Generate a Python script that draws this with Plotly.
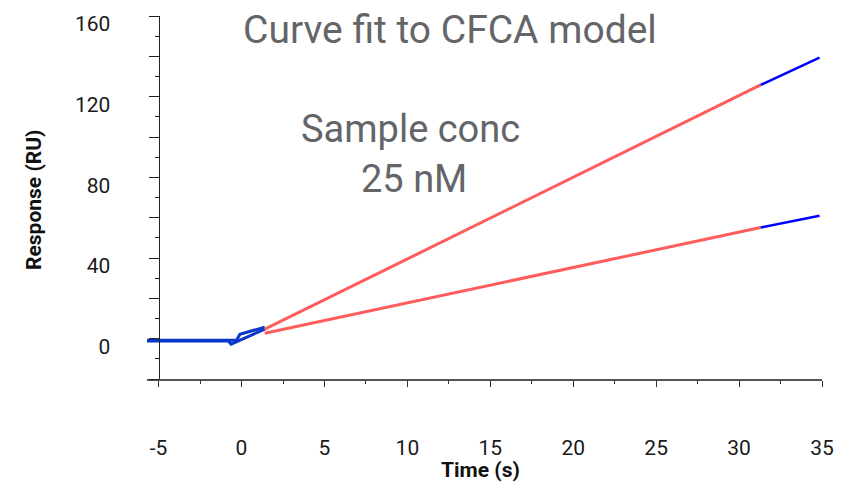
import plotly.graph_objects as go

# Sensorgram segments, time in s and response in RU
time_base_hi = [-5.7, -0.3, -0.1, 1.4]
resp_base_hi = [-0.8, -0.8, 2.2, 5.7]
time_base_lo = [-5.7, -0.8, -0.63, 1.4]
resp_base_lo = [-1.2, -1.2, -2.7, 4.7]

# CFCA model fit over the injection window
time_fit = [1.4, 31.3]
resp_fit_hi = [4.7, 125.8]
resp_fit_lo = [2.7, 55.1]

# Measured data after the fitted window
time_tail = [31.3, 34.85]
resp_tail_hi = [125.8, 139.3]
resp_tail_lo = [55.1, 60.9]

x_tick_vals = [-5, 0, 5, 10, 15, 20, 25, 30, 35]
x_tick_text = ["-5", "0", "5", "10", "15", "20", "25", "30", "35"]
y_tick_vals = [-20, 0, 20, 40, 60, 80, 100, 120, 140, 160]
y_tick_text = ["", "0", "", "40", "", "80", "", "120", "", "160"]

title_text = "Curve fit to CFCA model"
note_lines = ["Sample conc", "25 nM"]

BLUE_DARK = "#0b36c9"
BLUE = "#0000ff"
RED = "#ff5c5c"
GRAY = "#636569"
FONT = "Roboto"

X_RANGE = [-5.7, 35.0]
Y_RANGE = [-20, 160]

fig = go.Figure()

for t, r in [(time_base_lo, resp_base_lo), (time_base_hi, resp_base_hi)]:
    fig.add_trace(go.Scatter(x=t, y=r, mode="lines",
                             line=dict(color=BLUE_DARK, width=3)))
for r in [resp_fit_hi, resp_fit_lo]:
    fig.add_trace(go.Scatter(x=time_fit, y=r, mode="lines",
                             line=dict(color=RED, width=3)))
for r in [resp_tail_hi, resp_tail_lo]:
    fig.add_trace(go.Scatter(x=time_tail, y=r, mode="lines",
                             line=dict(color=BLUE, width=2.5)))

# y axis sits at t = -5 inside the slightly wider x range
y_axis_pos = (x_tick_vals[0] - X_RANGE[0]) / (X_RANGE[1] - X_RANGE[0])

fig.update_layout(
    width=851, height=482,
    margin=dict(l=147, r=29, t=14, b=103),
    paper_bgcolor="white", plot_bgcolor="white",
    showlegend=False,
    font=dict(family=FONT, color="#1a1a1a"),
    xaxis=dict(
        range=X_RANGE, showgrid=False, zeroline=False,
        showline=True, linecolor="#555555", linewidth=1.5,
        tickmode="array", tickvals=x_tick_vals, ticktext=x_tick_text,
        ticks="outside", ticklen=6, tickwidth=1, tickcolor="#333333",
        minor=dict(dtick=2.5, tick0=0, ticks="outside", ticklen=3,
                   tickcolor="#333333", showgrid=False),
        tickfont=dict(family=FONT, size=21, color="#1a1a1a"),
        ticklabelstandoff=43,
    ),
    yaxis=dict(
        range=Y_RANGE, showgrid=False, zeroline=False,
        anchor="free", position=y_axis_pos,
        showline=True, linecolor="#222222", linewidth=1,
        tickmode="array", tickvals=y_tick_vals, ticktext=y_tick_text,
        ticks="outside", ticklen=10, tickwidth=1, tickcolor="#222222",
        minor=dict(dtick=10, tick0=0, ticks="outside", ticklen=4,
                   tickcolor="#222222", showgrid=False),
        tickfont=dict(family=FONT, size=21, color="#1a1a1a"),
        ticklabelstandoff=34, ticklabelshift=8,
    ),
)

annotations = [
    dict(text=title_text, x=450, y=28, font=dict(size=39, color=GRAY)),
    dict(text=note_lines[0], x=410, y=128, font=dict(size=38, color=GRAY)),
    dict(text=note_lines[1], x=414, y=178, font=dict(size=38, color=GRAY)),
    dict(text="<b>Time (s)</b>", x=480, y=471, font=dict(size=21, color="#111111")),
    dict(text="<b>Response (RU)</b>", x=34, y=199, textangle=-90,
         font=dict(size=21, color="#111111")),
]
for a in annotations:
    fig.add_annotation(
        text=a["text"], xref="paper", yref="paper",
        x=(a["x"] - 147) / (851 - 147 - 29),
        y=1 - (a["y"] - 14) / (482 - 14 - 103),
        xanchor="center", yanchor="middle", showarrow=False,
        textangle=a.get("textangle", 0), font=dict(family=FONT, **a["font"]),
    )

fig.write_html("out.html")
